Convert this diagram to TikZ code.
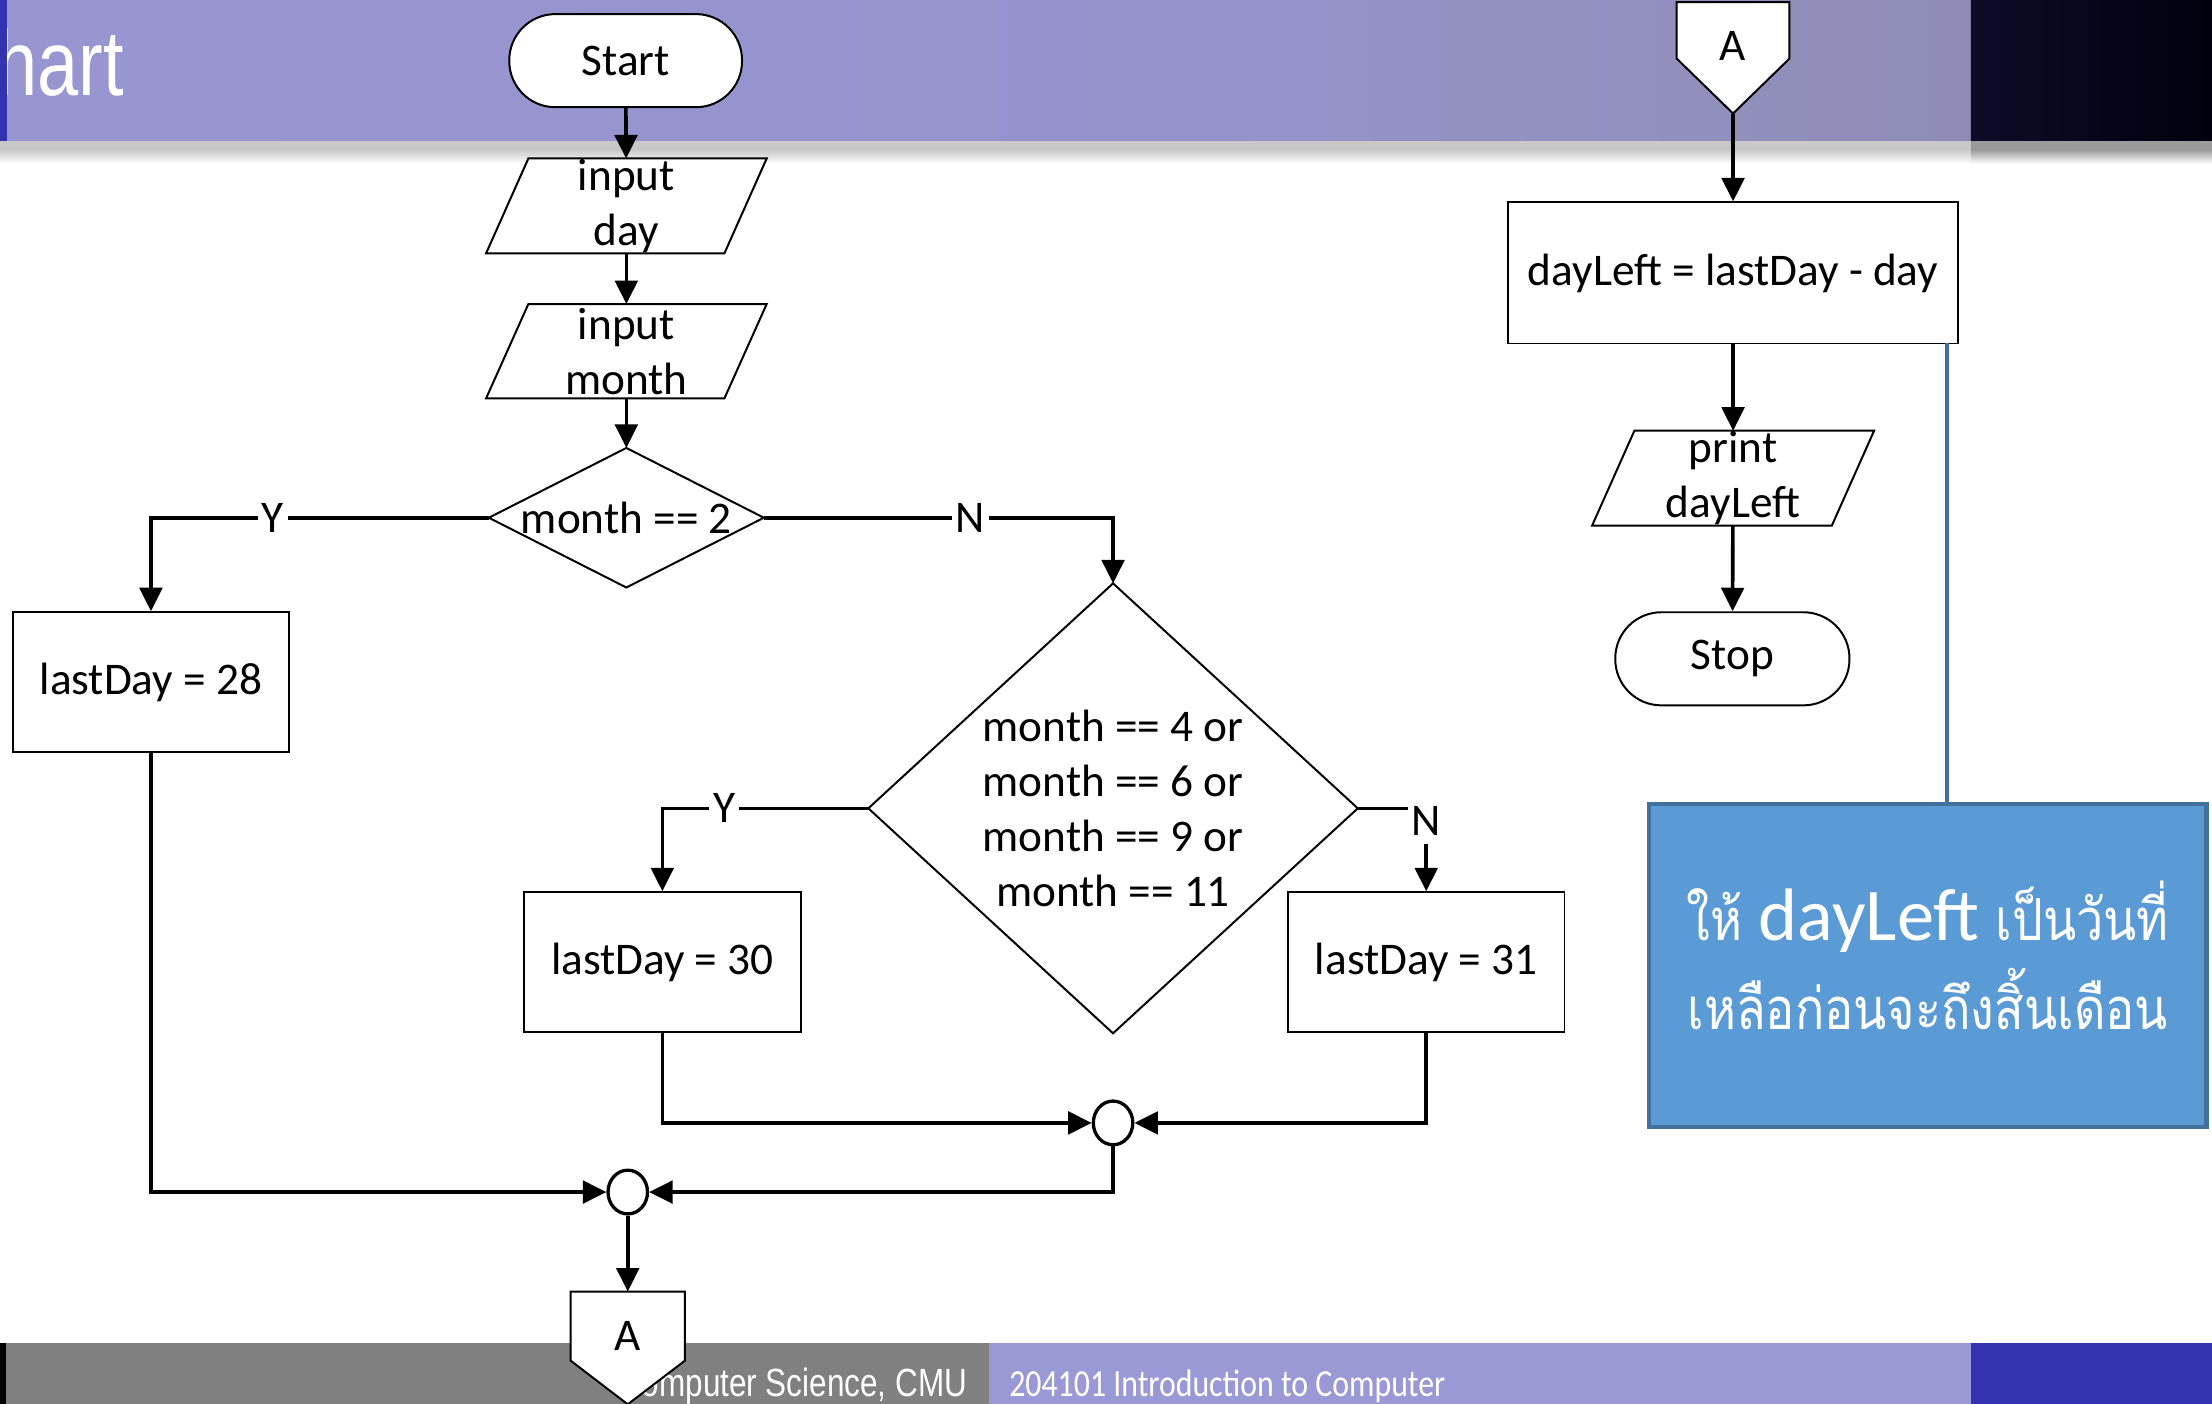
\documentclass[tikz,border=0pt]{standalone}
\usepackage{fontspec}
\setmainfont{Carlito}
\newfontfamily\thaifont[Script=Thai,FakeStretch=0.84]{Loma}
\newfontfamily\narrowfont[FakeStretch=0.8]{Liberation Sans}
\newfontfamily\footfont[FakeStretch=0.83]{Carlito}
\usetikzlibrary{arrows.meta,calc,shapes.geometric}

\newlength\unitpx
\setlength\unitpx{0.015cm}

\definecolor{banA}{RGB}{154,153,214}
\definecolor{banB}{RGB}{149,147,204}
\definecolor{banC}{RGB}{135,134,152}
\definecolor{navyL}{RGB}{12,12,40}
\definecolor{navyR}{RGB}{0,0,14}
\definecolor{stripblue}{RGB}{51,51,176}
\definecolor{footgray}{RGB}{128,128,128}
\definecolor{footlav}{RGB}{153,153,214}
\definecolor{footblue}{RGB}{51,51,176}
\definecolor{shadowgray}{RGB}{200,200,200}
\definecolor{shadowdark}{RGB}{155,155,155}
\definecolor{notefill}{RGB}{91,155,213}
\definecolor{noteedge}{RGB}{65,113,156}

\pgfdeclarehorizontalshading{bannershade}{100bp}{color(0bp)=(banA); color(55bp)=(banB); color(100bp)=(banC)}

\pgfdeclarelayer{back}
\pgfdeclarelayer{mid}
\pgfsetlayers{back,mid,main}

\tikzset{
  base/.style={inner sep=0pt, align=center, font=\fontsize{13.7}{16.7}\selectfont},
  procbox/.style={base, draw, line width=0.6pt, fill=white,
    minimum width=196*\unitpx, minimum height=99*\unitpx},
  termbox/.style={base, draw, line width=0.6pt, fill=white,
    rounded corners=0.49cm, minimum width=165*\unitpx, minimum height=66*\unitpx},
  ionode/.style={base, minimum width=168*\unitpx, minimum height=66*\unitpx},
  decnode/.style={base},
  offnode/.style={base, text depth=0.26cm},
  junc/.style={ellipse, draw, line width=1pt, fill=white, inner sep=0pt,
    minimum width=28*\unitpx, minimum height=31*\unitpx},
  outline/.style={draw, line width=0.6pt, fill=white},
  flow/.style={line width=1.1pt, -{Triangle[length=0.25cm,width=0.24cm]}},
  lbl/.style={fill=white, inner xsep=1.2pt, inner ysep=1pt, font=\fontsize{13.7}{16.7}\selectfont},
  notebox/.style={draw=noteedge, line width=1.3pt, fill=notefill, inner sep=0pt,
    minimum width=395*\unitpx, minimum height=229*\unitpx},
  notetext/.style={text=white, align=center, inner sep=0pt,
    font=\thaifont\fontsize{17.5}{26.9}\selectfont},
  pointer/.style={draw=noteedge, line width=1.3pt}
}

\begin{document}
\begin{tikzpicture}[x=0.015cm, y=-0.015cm]
\useasboundingbox (0,0) rectangle (1568,995);

% ---------- slide header and footer ----------
\begin{pgfonlayer}{back}
  \shade[shading=bannershade] (0,0) rectangle (1397,100);
  \shade[left color=navyL, right color=navyR] (1397,0) rectangle (1568,100);
  \fill[shadowgray] (0,100) rectangle (1397,106);
  \shade[top color=shadowgray, bottom color=white] (0,106) rectangle (1397,116);
  \fill[shadowdark] (1397,100) rectangle (1568,106);
  \shade[top color=shadowdark, bottom color=white] (1397,106) rectangle (1568,116);
  \node[anchor=base east, inner sep=0pt, text=white,
        font=\narrowfont\fontsize{28}{28}\selectfont] (title) at (88.5,68) {hart};
  \fill[stripblue] (0,0) rectangle (5,100);

  \fill[footgray] (0,952) rectangle (701,995);
  \fill[black] (0,952) rectangle (4,995);
  \fill[footlav] (701,952) rectangle (1397,995);
  \fill[footblue] (1397,952) rectangle (1568,995);
  \node[anchor=base east, inner sep=0pt, text=white,
        font=\narrowfont\fontsize{11.9}{12}\selectfont] (dept) at (686,990) {omputer Science, CMU};
  \node[anchor=base west, inner sep=0pt, text=white,
        font=\footfont\fontsize{11.6}{12}\selectfont] (course) at (715,990) {204101 Introduction to Computer};
\end{pgfonlayer}

% ---------- flowchart nodes ----------
\node[termbox] (start) at (443.5,43) {Start};
\node[ionode] (inday) at (444,146) {input\\day};
\node[ionode] (inmonth) at (444,249) {input\\month};
\node[decnode, minimum width=194*\unitpx, minimum height=98*\unitpx] (dec1) at (444,367) {month == 2};
\node[procbox] (ld28) at (107,483.5) {lastDay = 28};
\node[decnode, minimum width=346*\unitpx, minimum height=318*\unitpx] (dec2) at (789,573)
  {month == 4 or\\month == 6 or\\month == 9 or\\month == 11};
\node[procbox] (ld30) at (469.5,682) {lastDay = 30};
\node[procbox] (ld31) at (1011,682) {lastDay = 31};
\node[junc] (j1) at (789,796) {};
\node[junc] (j2) at (445,845) {};
\node[offnode, minimum width=80*\unitpx, minimum height=79*\unitpx] (abot) at (445,955.5) {A};

\node[offnode, minimum width=79*\unitpx, minimum height=78*\unitpx] (atop) at (1228.5,41) {A};
\node[procbox, minimum width=319*\unitpx, minimum height=100*\unitpx] (dayleft) at (1228.5,193.5)
  {dayLeft = lastDay - day};
\node[ionode, minimum width=169*\unitpx] (print) at (1228.5,339) {print\\dayLeft};
\node[termbox, minimum width=166*\unitpx] (stop) at (1228,467) {Stop};

% ---------- note box with its pointer ----------
\node[notebox] (note) at (1366.5,684.5) {};
\node[notetext] (notetext) at (1366.5,677)
  {ให้ {\rmfamily\fontsize{22.5}{26.9}\selectfont dayLeft} เป็นวันที่\\เหลือก่อนจะถึงสิ้นเดือน};
\coordinate (ptrtop) at (1380,243);

% ---------- shape outlines drawn around the text nodes ----------
\begin{pgfonlayer}{mid}
  \foreach \n in {inday,inmonth,print}{
    \draw[outline] ($(\n.north west)+(15,0)$) -- ($(\n.north east)+(15,0)$)
      -- ($(\n.south east)+(-15,0)$) -- ($(\n.south west)+(-15,0)$) -- cycle;
  }
  \foreach \n in {dec1,dec2}{
    \draw[outline] (\n.north) -- (\n.east) -- (\n.south) -- (\n.west) -- cycle;
  }
  \draw[outline] (atop.north west) -- (atop.north east) -- ($(atop.north east)+(0,40)$)
    -- (atop.south) -- ($(atop.north west)+(0,40)$) -- cycle;
  \draw[outline] (abot.north west) -- (abot.north east) -- ($(abot.north east)+(0,49)$)
    -- (abot.south) -- ($(abot.north west)+(0,49)$) -- cycle;
\end{pgfonlayer}

% ---------- connectors ----------
\draw[flow] (start) -- (inday);
\draw[flow] (inday) -- (inmonth);
\draw[flow] (inmonth) -- (dec1);
\draw[flow] (dec1.west) -| node[lbl, pos=0.32] {Y} (ld28.north);
\draw[flow] (dec1.east) -| node[lbl, pos=0.296] {N} (dec2.north);
\draw[flow] (dec2.west) -| node[lbl, pos=0.35] {Y} (ld30.north);
\draw[flow] (dec2.east) -| node[lbl, pos=0.5, yshift=-0.135cm, inner ysep=2.5pt] {N} (ld31.north);
\draw[flow] (ld30.south) |- (j1.west);
\draw[flow] (ld31.south) |- (j1.east);
\draw[flow] (j1.south) |- (j2.east);
\draw[flow] (ld28.south) |- (j2.west);
\draw[flow] (j2.south) -- (abot.north);

\draw[flow] (atop.south) -- (dayleft.north);
\draw[flow] (dayleft) -- (print);
\draw[flow] (print) -- (stop);

\draw[pointer] (ptrtop |- note.north) -- (ptrtop);
\end{tikzpicture}
\end{document}
